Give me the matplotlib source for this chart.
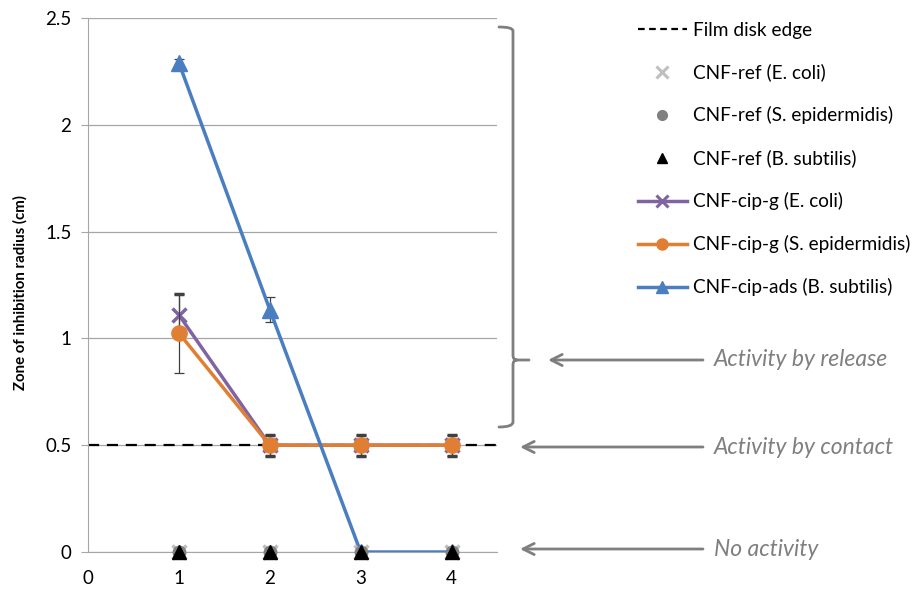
import matplotlib
matplotlib.use('Agg')
import matplotlib.pyplot as plt
from matplotlib.path import Path
from matplotlib.patches import PathPatch, FancyArrowPatch
import numpy as np

plt.rcParams['font.family'] = ['Lato', 'DejaVu Sans']
font_size = 13.5

# ---------------- data
days = [1, 2, 3, 4]
ref_ecoli = [0, 0, 0, 0]
ref_sepi = [0, 0, 0, 0]
ref_bsub = [0, 0, 0, 0]
cipg_ecoli = [1.11, 0.5, 0.5, 0.5]
cipg_ecoli_err = [0.10, 0.05, 0.05, 0.05]
cipg_sepi = [1.025, 0.5, 0.5, 0.5]
cipg_sepi_err = [0.185, 0.05, 0.05, 0.05]
cipads_bsub = [2.29, 1.135, 0, 0]
cipads_bsub_err = [0.02, 0.058, 0, 0]
disk_edge = 0.5
annot_labels = ['Activity by release', 'Activity by contact', 'No activity']

fig = plt.figure(figsize=(9.16, 5.9), dpi=100)
ax = fig.add_axes([88/916, 1-552/590, (497-88)/916, (552-18)/590])

grid_c = '#a6a6a6'
ax.set_xlim(0, 4.5)
ax.set_ylim(0, 2.5)
ax.set_yticks([0, 0.5, 1, 1.5, 2, 2.5])
ax.set_yticklabels(['0', '0.5', '1', '1.5', '2', '2.5'])
ax.set_xticks([0, 1, 2, 3, 4])
ax.grid(axis='y', color=grid_c, lw=0.9)
ax.set_axisbelow(True)
for s in ['top', 'right']:
    ax.spines[s].set_visible(False)
ax.spines['left'].set_color(grid_c)
ax.spines['bottom'].set_color(grid_c)
ax.tick_params(axis='y', length=5, color=grid_c, labelsize=font_size, pad=7)
ax.tick_params(axis='x', length=0, labelsize=font_size, pad=13)
ax.set_ylabel('Zone of inhibition radius (cm)', fontsize=10.8, fontweight='bold')
ax.yaxis.set_label_coords(-0.148, 0.485)

# film disk edge
l_edge = ax.axhline(disk_edge, color='black', ls=(0, (5, 3.5)), lw=1.6, zorder=2)

purple = '#8064a2'
orange = '#e07f34'
blue = '#4a7ec1'

eb_kw = dict(ecolor='#404040', elinewidth=0.9, capsize=3.5, capthick=0.9)
h4 = ax.errorbar(days, cipg_ecoli, yerr=cipg_ecoli_err, color=purple, lw=2.5,
                 marker='x', ms=10, mew=2.5, zorder=4, **eb_kw)
h5 = ax.errorbar(days, cipg_sepi, yerr=cipg_sepi_err, color=orange, lw=2.5,
                 marker='o', ms=11, zorder=5, **eb_kw)
h6 = ax.errorbar(days, cipads_bsub, yerr=cipads_bsub_err, color=blue, lw=2.5,
                 marker='^', ms=11, zorder=6, **eb_kw)

h1, = ax.plot(days, ref_ecoli, ls='none', marker='x', ms=10, mew=2.5, color='#bfbfbf', zorder=7)
h2, = ax.plot(days, ref_sepi, ls='none', marker='o', ms=9, color='#808080', zorder=7)
h3, = ax.plot(days, ref_bsub, ls='none', marker='^', ms=10, color='black', zorder=8)
for h in (h1, h2, h3):
    h.set_clip_on(False)

# legend
lg_h1, = plt.plot([], [], ls='none', marker='x', ms=8, mew=2.2, color='#bfbfbf')
lg_h2, = plt.plot([], [], ls='none', marker='o', ms=7, color='#808080')
lg_h3, = plt.plot([], [], ls='none', marker='^', ms=7, color='black')
lg_h4, = plt.plot([], [], color=purple, lw=2.5, marker='x', ms=8, mew=2.2)
lg_h5, = plt.plot([], [], color=orange, lw=2.5, marker='o', ms=8)
lg_h6, = plt.plot([], [], color=blue, lw=2.5, marker='^', ms=8)
lg_edge, = plt.plot([], [], color='black', ls=(0, (3, 2)), lw=1.6)
fig.legend([lg_edge, lg_h1, lg_h2, lg_h3, lg_h4, lg_h5, lg_h6],
           ['Film disk edge', 'CNF-ref (E. coli)', 'CNF-ref (S. epidermidis)',
            'CNF-ref (B. subtilis)', 'CNF-cip-g (E. coli)',
            'CNF-cip-g (S. epidermidis)', 'CNF-cip-ads (B. subtilis)'],
           loc='upper left', bbox_to_anchor=(630/916, 1-14/590), frameon=False,
           fontsize=13.7, handlelength=2.6, handletextpad=0.3, labelspacing=1.31,
           borderaxespad=0)

# brace and arrows, figure pixel coordinates
def fx(px):
    return px/916
def fy(py):
    return 1-py/590

gray = '#7f7f7f'
verts = [(fx(499), fy(27)), (fx(513), fy(27)), (fx(513), fy(31)),
         (fx(513), fy(355)), (fx(513), fy(360)), (fx(517), fy(360)),
         (fx(529), fy(360)), (fx(517), fy(360)), (fx(513), fy(360)), (fx(513), fy(365)),
         (fx(513), fy(422)), (fx(513), fy(427)), (fx(499), fy(427))]
codes = [Path.MOVETO, Path.CURVE3, Path.CURVE3,
         Path.LINETO, Path.CURVE3, Path.CURVE3,
         Path.LINETO, Path.MOVETO, Path.CURVE3, Path.CURVE3,
         Path.LINETO, Path.CURVE3, Path.CURVE3]
brace = PathPatch(Path(verts, codes), transform=fig.transFigure, fill=False,
                  edgecolor=gray, lw=2.0, capstyle='round')
fig.add_artist(brace)

arrow_y = [360, 447, 549]
arrow_x0 = [548, 520, 520]
for lab, ypix, x0 in zip(annot_labels, arrow_y, arrow_x0):
    ar = FancyArrowPatch((fx(703), fy(ypix)), (fx(x0), fy(ypix)), transform=fig.transFigure,
                         arrowstyle='->,head_length=8,head_width=4', color=gray, lw=2.0,
                         shrinkA=0, shrinkB=0)
    fig.add_artist(ar)
    fig.text(fx(714), fy(ypix), lab, fontsize=16.5, style='italic', color=gray,
             va='center', ha='left')

fig.savefig('out.png', dpi=100)
